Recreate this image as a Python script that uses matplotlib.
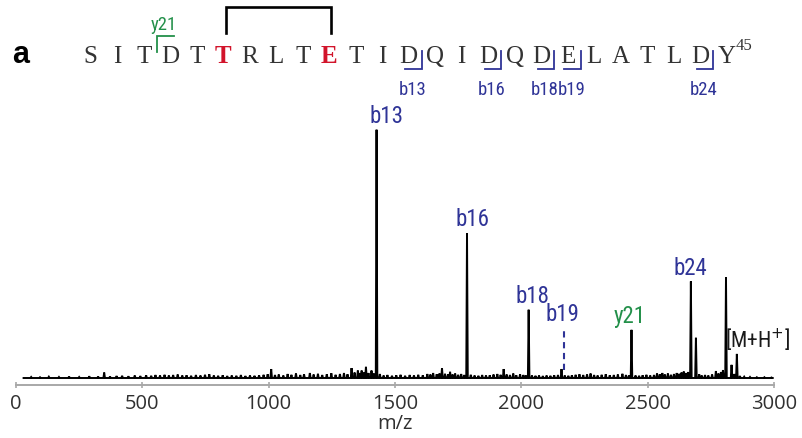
import matplotlib
matplotlib.use("Agg")
import matplotlib.pyplot as plt
from matplotlib import font_manager
import numpy as np

# ---------------- data ----------------
sequence = list("SITDTTRLTETIDQIDQDELATLDY")
last_residue = 45
crosslinked = [6, 10]                # 1-based positions of the linked T and E
b_ions = [13, 16, 18, 19, 24]        # b-ion cleavage after residue n
y_ion_label = "y21"
y_ion_gap = 3                        # bracket drawn after this residue

# labelled peaks (m/z, relative intensity)
peak_labels = ["b13", "b16", "b18", "y21", "b24", "[M+H$^{+}$]"]
peak_mz = [1427, 1785, 2029, 2436, 2671, 2853]
peak_int = [100.0, 58.3, 27.5, 19.4, 38.9, 9.7]

# unlabelled prominent peaks
other_mz = [2159, 2691, 2810, 2832]
other_int = [3.6, 16.2, 40.5, 5.3]

# b19 is not observed: dashed marker at its expected position
b19_mz = 2167
b19_range = [3.2, 20.2]

# low-level background signal
noise_mz = [60, 95, 130, 170, 210, 250, 290, 325, 349, 372, 398, 420, 445, 470, 492,
            515, 535, 552, 570, 588, 605, 622, 640, 658, 675, 693, 712, 730, 748, 765,
            783, 800, 818, 836, 854, 872, 890, 908, 926, 944, 962, 980, 996,
            1010, 1025, 1040, 1058, 1075, 1090, 1108, 1125, 1140, 1163, 1178, 1195,
            1212, 1230, 1248, 1265, 1282, 1298, 1312, 1328, 1340, 1353, 1360, 1368,
            1377, 1385, 1395, 1407, 1416,
            1440, 1455, 1470, 1488, 1505, 1522, 1540, 1558, 1575, 1592, 1610, 1628,
            1640, 1651, 1665, 1676, 1686, 1698, 1710, 1718, 1728, 1738, 1750, 1762, 1774,
            1800, 1815, 1830, 1845, 1860, 1875, 1890, 1905, 1918, 1930, 1942, 1955,
            1968, 1980, 1995, 2008, 2018,
            2042, 2056, 2070, 2085, 2100, 2115, 2130, 2145, 2172, 2186, 2200, 2215,
            2230, 2245, 2260, 2274, 2288, 2302, 2318, 2334, 2350, 2366, 2382, 2400,
            2414, 2426,
            2452, 2466, 2480, 2495, 2510, 2525, 2537, 2548, 2558, 2568, 2580, 2592,
            2604, 2615, 2625, 2634, 2643, 2652, 2660,
            2704, 2714, 2727, 2740, 2755, 2770, 2780, 2790, 2798, 2843, 2865, 2882,
            2905, 2932, 2962, 2990]
noise_int = [0.4, 0.3, 0.5, 0.4, 0.6, 0.4, 0.7, 0.6, 2.2, 0.6, 0.8, 0.9, 0.7, 1.0, 0.8,
             1.1, 0.9, 1.2, 1.0, 1.3, 1.0, 1.2, 1.4, 1.0, 1.1, 0.9, 1.2, 1.0, 1.3, 1.5,
             1.0, 0.9, 1.1, 0.8, 1.0, 0.9, 1.2, 0.8, 1.0, 0.9, 1.1, 1.3, 1.5,
             3.6, 1.2, 1.4, 1.0, 1.6, 1.3, 1.8, 1.2, 1.5, 2.0, 1.4, 1.7,
             1.2, 1.5, 1.9, 1.3, 1.6, 2.0, 1.5, 4.0, 2.2, 3.0, 2.0, 3.0,
             2.2, 4.5, 2.0, 3.0, 1.8,
             1.6, 1.0, 1.2, 0.9, 1.1, 1.3, 0.9, 1.2, 1.0, 1.3, 1.1, 1.6,
             1.4, 2.0, 1.5, 1.8, 4.0, 1.7, 1.5, 2.5, 1.4, 1.8, 1.3, 1.6, 1.2,
             1.3, 1.0, 0.9, 1.2, 1.0, 1.1, 1.4, 1.6, 1.3, 3.6, 1.4, 1.2,
             1.8, 1.1, 1.5, 1.2, 1.0,
             1.0, 0.9, 1.0, 0.8, 1.0, 0.9, 1.1, 1.2, 1.0, 0.9, 1.1, 1.3,
             1.5, 1.2, 1.4, 1.8, 1.2, 1.0, 1.3, 1.5, 1.1, 1.2, 1.4, 1.7,
             1.2, 1.0,
             1.0, 0.9, 1.1, 1.3, 1.0, 1.2, 1.8, 1.5, 2.0, 1.4, 1.8, 1.3,
             1.6, 2.0, 1.7, 2.2, 2.6, 2.0, 2.4,
             1.5, 1.0, 1.2, 1.0, 1.4, 2.8, 1.8, 2.4, 3.2, 1.6, 0.8, 0.5,
             0.4, 0.3, 0.3, 0.2]

x_ticks = [0, 500, 1000, 1500, 2000, 2500, 3000]
x_label = "m/z"

# ---------------- style ----------------
BLUE = "#2f3497"
GREEN = "#23904a"
RED = "#d2142b"
AXIS_FONT = "Open Sans"

# pick a condensed sans for the ion labels if one is installed
_names = {f.name for f in font_manager.fontManager.ttflist}
_narrow = [n for n in ["Roboto Condensed", "Liberation Sans Narrow", "Open Sans Condensed",
                       "DejaVu Sans Condensed"] if n in _names]
LABEL_FONT = (_narrow[:1] or ["Liberation Sans"])[0]
condensed = LABEL_FONT != "Liberation Sans"
SPEC_SIZE = 16.5 if condensed else 13.5
SEQ_SIZE = 13.5 if condensed else 10.5

W, H = 803, 439
fig = plt.figure(figsize=(W / 100, H / 100), dpi=100)

# spectrum axes (pixel box: x 16..774, y 110..386 from top)
ax = fig.add_axes([16 / W, (H - 386) / H, 758 / W, 276 / H])
k = 100 / 248.3
ax.set_xlim(0, 3000)
ax.set_ylim(-7 * k, (379 - 110) * k)

# build the profile trace from the peak lists
all_mz = np.array(peak_mz + other_mz + noise_mz, dtype=float)
all_int = np.array(peak_int + other_int + noise_int, dtype=float)
order = np.argsort(all_mz)
all_mz, all_int = all_mz[order], all_int[order]
half_w = 3.0
xs, ys = [30.0], [0.0]
for m, h in zip(all_mz, all_int):
    xs += [m - half_w, m, m + half_w]
    ys += [0.0, h, 0.0]
xs.append(2995.0)
ys.append(0.0)
ax.plot(xs, ys, color="black", lw=1.4, solid_joinstyle="miter")

# dashed marker for b19
ax.plot([b19_mz, b19_mz], b19_range, color=BLUE, lw=1.5, ls=(0, (3, 2.2)))

# peak annotations
nudge = {"b13": 7, "b16": 4, "b18": 3, "y21": -1.5, "b24": 0, "[M+H$^{+}$]": 15}
for lab, m, h in zip(peak_labels, peak_mz, peak_int):
    col = GREEN if lab.startswith("y") else (BLUE if lab.startswith("b") else "#1a1a1a")
    size = SPEC_SIZE if lab[0] in "by" else SPEC_SIZE - 1
    ax.annotate(lab, xy=(m, h), xytext=(nudge[lab], 2), textcoords="offset points",
                ha="center", va="bottom", color=col, fontsize=size,
                family=LABEL_FONT, annotation_clip=False)
ax.annotate("b19", xy=(b19_mz, b19_range[1]), xytext=(-0.5, 2),
            textcoords="offset points", ha="center", va="bottom", color=BLUE,
            fontsize=SPEC_SIZE, family=LABEL_FONT, annotation_clip=False)

for s in ["left", "right", "top"]:
    ax.spines[s].set_visible(False)
ax.spines["bottom"].set_color("#a8a8a8")
ax.spines["bottom"].set_linewidth(1.4)
ax.set_yticks([])
ax.set_xticks(x_ticks)
ax.set_xticklabels([str(t) for t in x_ticks])
ax.tick_params(axis="x", direction="inout", length=4.5, width=1.2, color="#a8a8a8",
               pad=3.5, labelsize=14.5, labelcolor="#303030")
for t in ax.get_xticklabels():
    t.set_family(AXIS_FONT)
ax.set_xlabel(x_label, fontsize=14.5, family=AXIS_FONT, color="#303030", labelpad=0)

# ---------------- sequence header (pixel coordinates) ----------------
ov = fig.add_axes([0, 0, 1, 1], facecolor="none")
ov.set_xlim(0, W)
ov.set_ylim(H, 0)
ov.axis("off")

x0, step, base_y = 90.7, 26.5, 63.3
res_x = [x0 + step * i for i in range(len(sequence))]

ov.text(20.5, 63.3, "a", fontsize=22, fontweight="bold", family="Liberation Sans",
        ha="center", va="baseline", color="black")

for i, (aa, x) in enumerate(zip(sequence, res_x)):
    linked = (i + 1) in crosslinked
    ov.text(x, base_y, aa, fontsize=18, family="Liberation Serif",
            fontweight="bold" if linked else "normal",
            color=RED if linked else "#333333", ha="center", va="baseline")
ov.text(res_x[-1] + 9, 46.5, str(last_residue), fontsize=12, family="Liberation Serif",
        color="#333333", ha="left", va="center")

# cross-link bracket
xa, xb = res_x[crosslinked[0] - 1] + 3, res_x[crosslinked[1] - 1] + 2
ov.plot([xa, xa, xb, xb], [34, 8, 8, 34], color="black", lw=1.9,
        solid_joinstyle="miter")

# b-ion brackets
for n in b_ions:
    xr = res_x[n - 1]
    xg = xr + step / 2
    ov.plot([xr - 3.5, xg, xg], [70, 70, 51.7], color=BLUE, lw=1.3,
            solid_joinstyle="miter")
    ov.text(xr + 3.5, 90, f"b{n}", fontsize=SEQ_SIZE, family=LABEL_FONT, color=BLUE,
            ha="center", va="center")

# y-ion bracket
xr = res_x[y_ion_gap]
xg = xr - step / 2
ov.plot([xg, xg, xr + 4], [53.3, 36.7, 36.7], color=GREEN, lw=1.3,
        solid_joinstyle="miter")
ov.text(xr - 6, 24.5, y_ion_label, fontsize=SEQ_SIZE + (0 if condensed else 1.5),
        family=LABEL_FONT, color=GREEN, ha="center", va="center")

fig.savefig("out.png", dpi=100)
